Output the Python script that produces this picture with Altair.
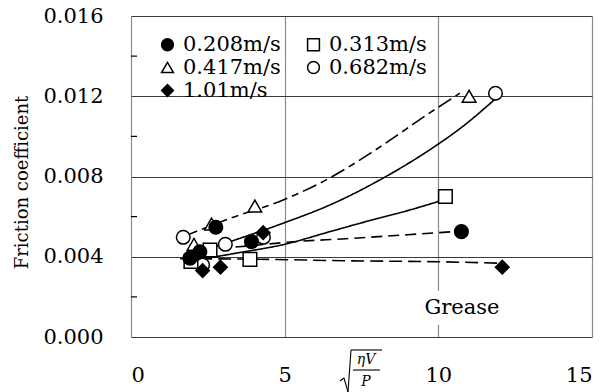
import altair as alt
import pandas as pd

FONT = "DejaVu Serif"

series_names = ["0.208m/s", "0.313m/s", "0.417m/s", "0.682m/s", "1.01m/s"]
series_shapes = ["circle", "square", "triangle-up", "circle", "diamond"]
series_fills = ["black", "white", "white", "white", "black"]
# legend fills column by column: left column first
legend_order = ["0.208m/s", "0.417m/s", "1.01m/s", "0.313m/s", "0.682m/s"]

# measured points
x_208 = [1.92, 2.24, 2.76, 3.92, 10.75]
y_208 = [0.00393, 0.00425, 0.00547, 0.00475, 0.00525]
x_313 = [1.95, 2.57, 3.87, 10.23]
y_313 = [0.00376, 0.00434, 0.00387, 0.0070]
x_417 = [2.05, 2.62, 4.03, 11.0]
y_417 = [0.00462, 0.00563, 0.00653, 0.0120]
x_682 = [1.70, 2.33, 3.07, 4.31, 11.86]
y_682 = [0.00497, 0.00359, 0.00462, 0.00497, 0.01215]
x_101 = [2.33, 2.91, 4.30, 12.08]
y_101 = [0.00331, 0.00348, 0.0052, 0.00348]

# trend curves
cx_417 = [1.7, 3.2, 4.95, 6.47, 7.87, 9.72, 10.7]
cy_417 = [0.0050, 0.0059, 0.00683, 0.00793, 0.00924, 0.01117, 0.01215]
cx_682 = [2.08, 3.22, 5.0, 6.47, 8.19, 9.72, 10.79, 11.88]
cy_682 = [0.00417, 0.00475, 0.0057, 0.00658, 0.00791, 0.00933, 0.01049, 0.0119]
cx_313 = [2.13, 3.5, 5.0, 6.47, 8.0, 9.0, 10.1]
cy_313 = [0.00384, 0.0042, 0.00462, 0.00525, 0.00590, 0.00630, 0.0068]
cx_208 = [2.3, 3.5, 5.3, 7.0, 9.0, 10.5]
cy_208 = [0.0044, 0.0045, 0.00475, 0.0049, 0.0051, 0.00525]
cx_101 = [1.6, 4.0, 7.0, 10.0, 12.0]
cy_101 = [0.0039, 0.00388, 0.0038, 0.00375, 0.00368]

curve_names = ["c417", "c682", "c313", "c208", "c101"]
curve_dashes = [[15, 5, 7, 5], [1, 0], [1, 0], [11, 6], [13, 6]]

x_ticks = [0, 5, 10, 15]
y_ticks = [0.0, 0.004, 0.008, 0.012, 0.016]
y_minor = [0.002, 0.006, 0.010, 0.014]

note_text = ["Grease"]
note_x = [10.77]
note_y = [0.00145]
note_box_x = [9.45]
note_box_x2 = [12.2]
note_box_y = [0.0006]
note_box_y2 = [0.0023]

rows = []
for name, xs_, ys_ in zip(series_names, [x_208, x_313, x_417, x_682, x_101],
                          [y_208, y_313, y_417, y_682, y_101]):
    for a, b in zip(xs_, ys_):
        rows.append({"x": a, "y": b, "series": name})
pts = pd.DataFrame(rows)
order = ["0.682m/s", "0.417m/s", "0.313m/s", "0.208m/s", "1.01m/s"]
pts["o"] = pts["series"].map({n: i for i, n in enumerate(order)})
pts = pts.sort_values("o")

crow = []
for name, xs_, ys_ in zip(curve_names, [cx_417, cx_682, cx_313, cx_208, cx_101],
                          [cy_417, cy_682, cy_313, cy_208, cy_101]):
    for a, b in zip(xs_, ys_):
        crow.append({"x": a, "y": b, "curve": name})
curves = pd.DataFrame(crow)

xs = alt.Scale(domain=[0, 15], nice=False, zero=False)
ys = alt.Scale(domain=[0, 0.016], nice=False, zero=False)

xaxis = alt.Axis(values=x_ticks, title=None, grid=True, gridColor="#8a8a8a",
                 gridWidth=1.2, ticks=False, domain=False, labelPadding=27,
                 labelFontSize=21, labelFont=FONT, labelColor="black")
yaxis = alt.Axis(values=y_ticks, format=".3f", title="Friction coefficient",
                 grid=True, gridColor="#3a3a3a", gridWidth=1.2, ticks=False,
                 domain=False, labelPadding=28, labelFontSize=21, labelFont=FONT,
                 labelColor="black", titleFont=FONT, titleFontSize=18,
                 titleFontWeight="normal", titleColor="black", titleX=-109,
                 titleY=166, titleBaseline="middle")

shape_map = dict(zip(series_names, series_shapes))
fill_map = dict(zip(series_names, series_fills))

base_lines = alt.Chart(curves).mark_line(
    interpolate="monotone", color="black", strokeWidth=1.6
).encode(
    x=alt.X("x:Q", scale=xs, axis=xaxis),
    y=alt.Y("y:Q", scale=ys, axis=yaxis),
    detail="curve:N",
    strokeDash=alt.StrokeDash("curve:N", scale=alt.Scale(domain=curve_names, range=curve_dashes), legend=None),
)

note_df = pd.DataFrame({"t": note_text, "x": note_x, "y": note_y, "bx": note_box_x,
                        "bx2": note_box_x2, "by": note_box_y, "by2": note_box_y2})
note_box = alt.Chart(note_df).mark_rect(fill="white").encode(
    x=alt.X("bx:Q", scale=xs), x2="bx2:Q", y=alt.Y("by:Q", scale=ys), y2="by2:Q")
note = alt.Chart(note_df).mark_text(font=FONT, fontSize=21, color="black").encode(
    x=alt.X("x:Q", scale=xs), y=alt.Y("y:Q", scale=ys), text="t:N")

minor = alt.Chart(pd.DataFrame({"y": y_minor})).mark_rule(color="black", strokeWidth=1.2).encode(
    y=alt.Y("y:Q", scale=ys), x=alt.value(0), x2=alt.value(6))

legend = alt.Legend(title=None, orient="none", legendX=26, legendY=18,
                    columns=2, columnPadding=22, rowPadding=1,
                    symbolSize=140, symbolStrokeWidth=1.5,
                    symbolStrokeColor="black", labelFont=FONT,
                    labelFontSize=21, labelColor="black",
                    labelOffset=5, padding=0)

points = alt.Chart(pts).mark_point(filled=True, strokeWidth=1.5, size=185, opacity=1).encode(
    x=alt.X("x:Q", scale=xs),
    y=alt.Y("y:Q", scale=ys),
    shape=alt.Shape("series:N", scale=alt.Scale(domain=legend_order,
                    range=[shape_map[n] for n in legend_order]), legend=legend),
    fill=alt.Fill("series:N", scale=alt.Scale(domain=legend_order,
                  range=[fill_map[n] for n in legend_order]), legend=legend),
    stroke=alt.Stroke("series:N", scale=alt.Scale(domain=legend_order,
                      range=["black"] * 5), legend=legend),
    order=alt.Order("o:Q"),
)

# x-axis title: sqrt(eta V / P), drawn as decoration
title_layers = []
radical_segments = [
    (209, 365, 213, 362),
    (213, 362, 217, 376),
    (217, 376, 220, 334),
    (220, 334, 251, 334),
    (222, 354, 249, 354),
]
for (a, b, c, d) in radical_segments:
    title_layers.append(
        alt.Chart(pd.DataFrame({"k": [0]})).mark_rule(color="black", strokeWidth=1.1).encode(
            x=alt.value(a), y=alt.value(b), x2=alt.value(c), y2=alt.value(d)))
title_texts = [("ηV", 235, 344), ("P", 235, 366)]
for (t, a, b) in title_texts:
    title_layers.append(
        alt.Chart(pd.DataFrame({"k": [0]})).mark_text(
            text=t, font=FONT, fontSize=14, fontStyle="italic", color="black", baseline="middle"
        ).encode(x=alt.value(a), y=alt.value(b)))

chart = alt.layer(base_lines, note_box, note, minor, points, *title_layers).properties(
    width=461, height=321,
    autosize=alt.AutoSizeParams(type="none"),
    padding={"left": 131, "top": 16, "right": 21, "bottom": 55},
).configure_view(stroke="black", strokeWidth=2).configure(font=FONT, background="white")

chart.save("out.html", embed_options={"renderer": "svg", "actions": False})
